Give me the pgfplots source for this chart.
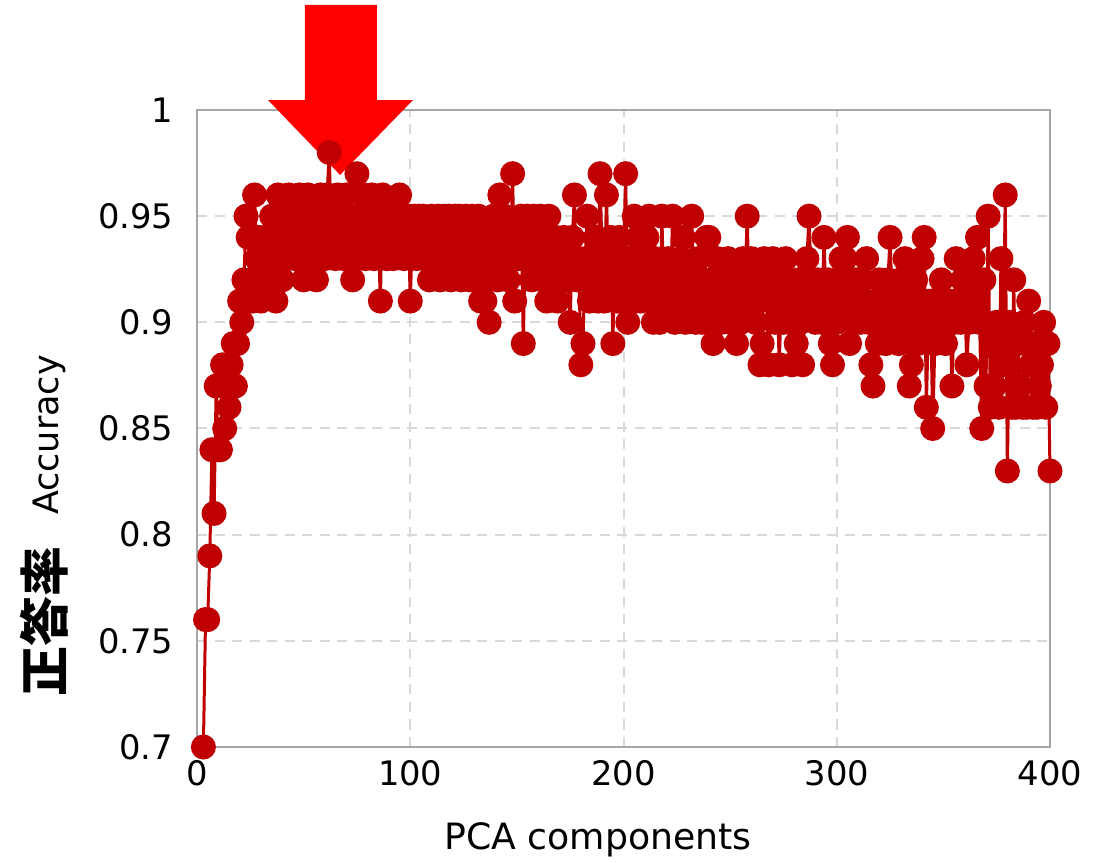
\documentclass[border=0pt]{standalone}
\usepackage{pgfplots}
\pgfplotsset{compat=1.18}
\usepackage{fontspec}
\setmainfont{DejaVu Sans}
\newfontfamily\cjk{Noto Sans CJK JP}
\definecolor{dred}{HTML}{C00000}
\definecolor{gridc}{HTML}{D9D9D9}
\definecolor{framec}{HTML}{A6A6A6}
\begin{document}
\begin{tikzpicture}
\begin{axis}[
  name=ax,
  scale only axis,
  width=341.2pt, height=254.8pt,
  xmin=0, xmax=400, ymin=0.7, ymax=1,
  xtick={0,100,200,300,400},
  ytick={0.7,0.75,0.8,0.85,0.9,0.95,1},
  yticklabels={0.7,0.75,0.8,0.85,0.9,0.95,1},
  grid=major,
  grid style={dash pattern=on 4pt off 3pt, gridc, line width=0.8pt},
  axis line style={framec, line width=1pt},
  tick style={draw=none},
  /pgf/number format/assume math mode=true,
  ticklabel style={font=\fontsize{13.5}{15}\selectfont},
  yticklabel style={xshift=-6pt},
  xticklabel style={yshift=-2pt},
  clip=false,
]
\addplot[dred, line width=1.2pt, mark=*, mark size=4.4pt, mark options={fill=dred, draw=dred}] coordinates {
(3,0.70)(4,0.76)(5,0.76)(6,0.79)(7,0.84)(8,0.81)(9,0.87)(10,0.84)(11,0.84)(12,0.88)
(13,0.85)(14,0.87)(15,0.86)(16,0.88)(17,0.89)(18,0.87)(19,0.89)(20,0.91)(21,0.90)(22,0.92)
(23,0.95)(24,0.94)(25,0.92)(26,0.91)(27,0.96)(28,0.93)(29,0.94)(30,0.91)(31,0.93)(32,0.94)
(33,0.92)(34,0.93)(35,0.95)(36,0.94)(37,0.91)(38,0.96)(39,0.94)(40,0.92)(41,0.95)(42,0.93)
(43,0.96)(44,0.94)(45,0.95)(46,0.93)(47,0.94)(48,0.96)(49,0.95)(50,0.92)(51,0.94)(52,0.96)
(53,0.93)(54,0.95)(55,0.94)(56,0.92)(57,0.95)(58,0.96)(59,0.94)(60,0.93)(61,0.96)(62,0.98)
(63,0.94)(64,0.95)(65,0.93)(66,0.96)(67,0.94)(68,0.95)(69,0.93)(70,0.96)(71,0.95)(72,0.94)
(73,0.92)(74,0.93)(75,0.97)(76,0.95)(77,0.94)(78,0.96)(79,0.93)(80,0.95)(81,0.94)(82,0.96)
(83,0.93)(84,0.95)(85,0.94)(86,0.91)(87,0.96)(88,0.94)(89,0.93)(90,0.95)(91,0.94)(92,0.93)
(93,0.95)(94,0.94)(95,0.96)(96,0.95)(97,0.93)(98,0.94)(99,0.95)(100,0.91)(101,0.94)(102,0.95)
(103,0.93)(104,0.95)(105,0.94)(106,0.95)(107,0.93)(108,0.94)(109,0.92)(110,0.95)(111,0.93)(112,0.94)
(113,0.95)(114,0.92)(115,0.94)(116,0.95)(117,0.93)(118,0.95)(119,0.92)(120,0.94)(121,0.95)(122,0.93)
(123,0.95)(124,0.92)(125,0.94)(126,0.95)(127,0.93)(128,0.92)(129,0.95)(130,0.94)(131,0.92)(132,0.95)
(133,0.91)(134,0.93)(135,0.91)(136,0.94)(137,0.90)(138,0.93)(139,0.95)(140,0.94)(141,0.92)(142,0.96)
(143,0.93)(144,0.95)(145,0.94)(146,0.92)(147,0.93)(148,0.97)(149,0.91)(150,0.94)(151,0.93)(152,0.95)
(153,0.89)(154,0.94)(155,0.95)(156,0.93)(157,0.92)(158,0.95)(159,0.94)(160,0.93)(161,0.95)(162,0.92)
(163,0.94)(164,0.91)(165,0.95)(166,0.93)(167,0.92)(168,0.94)(169,0.91)(170,0.93)(171,0.92)(172,0.94)
(173,0.93)(174,0.92)(175,0.90)(176,0.94)(177,0.96)(178,0.92)(179,0.93)(180,0.88)(181,0.89)(182,0.93)
(183,0.95)(184,0.91)(185,0.93)(186,0.92)(187,0.94)(188,0.91)(189,0.97)(190,0.93)(191,0.91)(192,0.96)
(193,0.92)(194,0.94)(195,0.89)(196,0.93)(197,0.91)(198,0.94)(199,0.92)(200,0.93)(201,0.97)(202,0.90)
(203,0.93)(204,0.91)(205,0.95)(206,0.92)(207,0.94)(208,0.91)(209,0.93)(210,0.92)(211,0.94)(212,0.95)
(213,0.91)(214,0.90)(215,0.93)(216,0.92)(217,0.90)(218,0.95)(219,0.91)(220,0.92)(221,0.93)(222,0.91)
(223,0.95)(224,0.90)(225,0.92)(226,0.91)(227,0.93)(228,0.94)(229,0.90)(230,0.92)(231,0.91)(232,0.95)
(233,0.92)(234,0.90)(235,0.93)(236,0.91)(237,0.90)(238,0.92)(239,0.94)(240,0.94)(241,0.91)(242,0.89)
(243,0.92)(244,0.93)(245,0.91)(246,0.90)(247,0.92)(248,0.91)(249,0.93)(250,0.90)(251,0.92)(252,0.91)
(253,0.89)(254,0.92)(255,0.90)(256,0.93)(257,0.92)(258,0.95)(259,0.91)(260,0.93)(261,0.92)(262,0.90)
(263,0.91)(264,0.88)(265,0.89)(266,0.93)(267,0.92)(268,0.88)(269,0.91)(270,0.93)(271,0.90)(272,0.92)
(273,0.88)(274,0.91)(275,0.90)(276,0.93)(277,0.92)(278,0.90)(279,0.88)(280,0.91)(281,0.89)(282,0.92)
(283,0.90)(284,0.88)(285,0.91)(286,0.93)(287,0.95)(288,0.92)(289,0.91)(290,0.90)(291,0.92)(292,0.91)
(293,0.90)(294,0.94)(295,0.91)(296,0.92)(297,0.89)(298,0.88)(299,0.91)(300,0.90)(301,0.92)(302,0.93)
(303,0.91)(304,0.93)(305,0.94)(306,0.89)(307,0.91)(308,0.90)(309,0.92)(310,0.91)(311,0.90)(312,0.92)
(313,0.91)(314,0.93)(315,0.90)(316,0.88)(317,0.87)(318,0.91)(319,0.89)(320,0.92)(321,0.90)(322,0.91)
(323,0.89)(324,0.92)(325,0.94)(326,0.91)(327,0.90)(328,0.91)(329,0.89)(330,0.92)(331,0.90)(332,0.93)
(333,0.91)(334,0.87)(335,0.88)(336,0.90)(337,0.92)(338,0.89)(339,0.91)(340,0.93)(341,0.94)(342,0.86)
(343,0.90)(344,0.91)(345,0.85)(346,0.89)(347,0.91)(348,0.90)(349,0.92)(350,0.91)(351,0.89)(352,0.90)
(353,0.91)(354,0.87)(355,0.90)(356,0.93)(357,0.91)(358,0.90)(359,0.92)(360,0.91)(361,0.88)(362,0.90)
(363,0.92)(364,0.93)(365,0.91)(366,0.94)(367,0.90)(368,0.85)(369,0.92)(370,0.87)(371,0.95)(372,0.86)
(373,0.89)(374,0.87)(375,0.90)(376,0.86)(377,0.93)(378,0.88)(379,0.96)(380,0.83)(381,0.90)(382,0.86)
(383,0.92)(384,0.86)(385,0.89)(386,0.87)(387,0.86)(388,0.90)(389,0.86)(390,0.91)(391,0.88)(392,0.86)
(393,0.89)(394,0.86)(395,0.87)(396,0.88)(397,0.90)(398,0.86)(399,0.89)(400,0.83)
};
\fill[red] (axis cs:50.6,1.0495) -- (axis cs:84.4,1.0495) -- (axis cs:84.4,1.0047) -- (axis cs:101.3,1.0047)
  -- (axis cs:67.1,0.9694) -- (axis cs:33.3,1.0047) -- (axis cs:50.6,1.0047) -- cycle;
\node[anchor=center, font=\fontsize{14.5}{16}\selectfont] at ([yshift=-37.2pt]axis cs:188,0.7) {PCA components};
\node[rotate=90, anchor=center, font=\cjk\bfseries\fontsize{20}{22}\selectfont] at ([xshift=-61.2pt, yshift=50pt]axis cs:0,0.7) {正答率};
\node[rotate=90, anchor=center, font=\fontsize{14}{16}\selectfont] at ([xshift=-59pt, yshift=124.8pt]axis cs:0,0.7) {Accuracy};
\end{axis}
\pgfresetboundingbox
\useasboundingbox ([xshift=-78.8pt,yshift=-46pt]ax.south west) rectangle ([xshift=23.6pt,yshift=44pt]ax.north east);
\end{tikzpicture}
\end{document}
